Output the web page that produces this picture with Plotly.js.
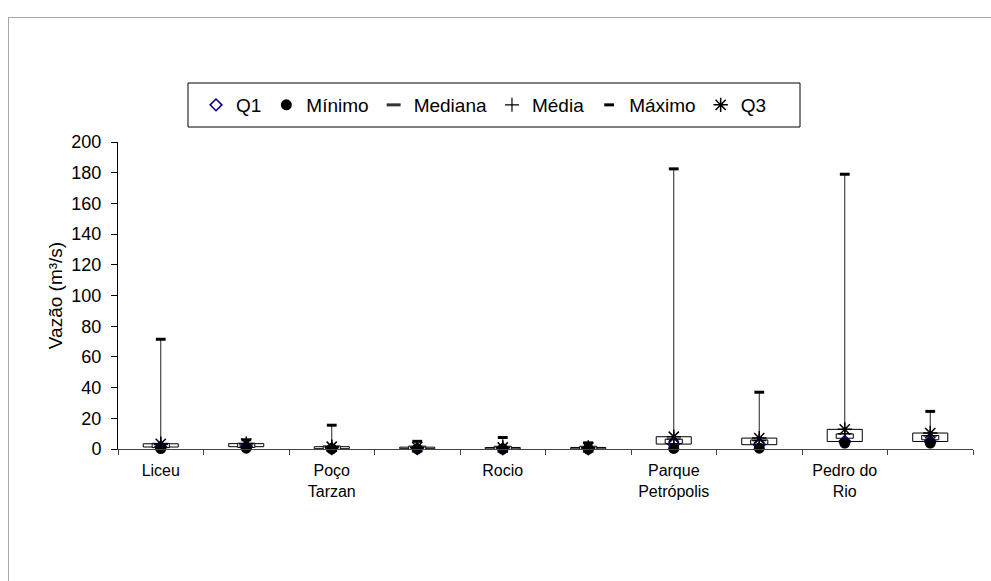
<!DOCTYPE html>
<html><head><meta charset="utf-8">
<script src="https://cdn.plot.ly/plotly-3.0.1.min.js"></script>
<style>
html,body{margin:0;padding:0;background:#fff;}
#wrap{position:relative;width:991px;height:581px;overflow:hidden;}
#frame{position:absolute;left:8px;top:17px;width:1000px;height:600px;border-left:1px solid #a8a8a8;border-top:1px solid #a8a8a8;pointer-events:none;}
#chart{position:absolute;left:0;top:0;width:991px;height:581px;}
</style></head>
<body><div id="wrap"><div id="chart"></div><div id="frame"></div></div>
<script>
// ---- data ----
const categories = ["Liceu", "", "Poço Tarzan", "", "Rocio", "", "Parque Petrópolis", "", "Pedro do Rio", ""];
const tickLabels = ["Liceu", "", "Poço<br>Tarzan", "", "Rocio", "", "Parque<br>Petrópolis", "", "Pedro do<br>Rio", ""];
const q1      = [1.3, 1.5, 0.2, 0.2, 0.1, 0.1, 3.2, 2.8, 4.9, 4.9];
const minimo  = [0.3, 0.5, 0.05, 0.05, 0.0, 0.0, 0.4, 0.5, 3.9, 3.9];
const mediana = [2.3, 2.4, 0.6, 0.5, 0.4, 0.4, 5.0, 4.5, 8.4, 7.4];
const media   = [2.8, 2.6, 1.1, 0.9, 0.8, 0.6, 6.5, 5.5, 10.0, 8.5];
const maximo  = [71.5, 6.0, 15.5, 5.0, 7.5, 4.0, 182.5, 37.0, 179.0, 24.5];
const q3      = [3.4, 3.5, 1.5, 1.2, 1.0, 1.0, 8.0, 7.1, 12.8, 10.4];
const yTicks  = [0, 20, 40, 60, 80, 100, 120, 140, 160, 180, 200];

// ---- styles ----
const FONT = "Liberation Sans, Arial, sans-serif";
const BOX_W = 0.41, MED_W = 0.2, MED_HALF = 1.4;

const xs = categories.map((_, i) => i + 1);
const bounds = [0].concat(xs).map(v => v + 0.5);

const hiloX = [], hiloY = [];
xs.forEach((x, i) => { hiloX.push(x, x, null); hiloY.push(minimo[i], maximo[i], null); });

const traces = [
  { type: "bar", x: xs, base: q1, y: q3.map((v, i) => v - q1[i]), width: BOX_W,
    marker: { color: "#ffffff", line: { color: "#000", width: 1 } }, showlegend: false, hoverinfo: "skip" },
  { type: "bar", x: xs, base: mediana.map(v => v - MED_HALF), y: mediana.map(() => 2 * MED_HALF), width: MED_W,
    marker: { color: "#ffffff", line: { color: "#000", width: 1 } }, showlegend: false, legendgroup: "med", hoverinfo: "skip" },
  { type: "scatter", mode: "lines", x: hiloX, y: hiloY, line: { color: "#222", width: 1 },
    showlegend: false, cliponaxis: false, hoverinfo: "skip" },
  { type: "scatter", mode: "markers", name: "Média", x: xs, y: media, legendrank: 4, cliponaxis: false,
    marker: { symbol: "cross-thin-open", size: 10, color: "#000", line: { color: "#000", width: 1.2 } } },
  { type: "scatter", mode: "markers", name: "Máximo", x: xs, y: maximo, legendrank: 5, cliponaxis: false,
    marker: { symbol: "line-ew-open", size: 7, color: "#000", line: { color: "#000", width: 3 } } },
  { type: "scatter", mode: "markers", name: "Q1", x: xs, y: q1, legendrank: 1, cliponaxis: false,
    marker: { symbol: "diamond-open", size: 9, color: "#000080", line: { color: "#000080", width: 1.5 } } },
  { type: "scatter", mode: "markers", name: "Q3", x: xs, y: q3, legendrank: 6, cliponaxis: false,
    marker: { symbol: "asterisk-open", size: 12, color: "#000", line: { color: "#000", width: 1.5 } } },
  { type: "scatter", mode: "markers", name: "Mínimo", x: xs, y: minimo, legendrank: 2, cliponaxis: false,
    marker: { symbol: "circle", size: 11, color: "#000" } },
  { type: "scatter", mode: "markers", name: "Mediana", x: [null], y: [null], legendrank: 3, legendgroup: "med",
    marker: { symbol: "line-ew-open", size: 10, color: "#333", line: { color: "#333", width: 3 } } }
];

const L = 118, R = 18, T = 142, B = 132;
const W = 991, H = 581, PW = W - L - R, PH = H - T - B;
const px = v => (v - L) / PW;
const py = v => (H - B - v) / PH;

const layout = {
  width: W, height: H,
  margin: { l: L, r: R, t: T, b: B },
  paper_bgcolor: "rgba(0,0,0,0)", plot_bgcolor: "rgba(0,0,0,0)",
  font: { family: FONT, color: "#000", size: 16 },
  barmode: "overlay",
  showlegend: true,
  legend: { orientation: "h", x: px(196), xanchor: "left", y: py(105), yanchor: "middle",
            bgcolor: "rgba(0,0,0,0)", borderwidth: 0, font: { family: FONT, size: 19, color: "#000" },
            itemwidth: 30, traceorder: "normal" },
  xaxis: { type: "linear", range: [0.5, 10.5], tickmode: "array", tickvals: bounds, ticktext: bounds.map(() => ""),
           ticks: "outside", ticklen: 5, tickcolor: "#444", showline: true, linecolor: "#444", linewidth: 1,
           showgrid: false, zeroline: false, fixedrange: true },
  xaxis2: { type: "linear", overlaying: "x", anchor: "y", side: "bottom", range: [0.5, 10.5],
            tickmode: "array", tickvals: xs, ticktext: tickLabels, ticks: "", ticklen: 0, showline: false,
            showgrid: false, zeroline: false, ticklabelstandoff: 10, tickfont: { family: FONT, size: 16, color: "#000" } },
  yaxis: { range: [0, 200], tickmode: "array", tickvals: yTicks, ticks: "outside", ticklen: 6, tickcolor: "#000",
           showline: true, linecolor: "#000", linewidth: 1, showgrid: false, zeroline: false,
           ticklabelstandoff: 6, tickfont: { family: FONT, size: 18, color: "#000" },
           title: { text: "Vazão (m³/s)", font: { family: FONT, size: 19, color: "#000" }, standoff: 3 } },
  shapes: [
    { type: "rect", xref: "paper", yref: "paper", x0: px(188), x1: px(800), y0: py(127), y1: py(83),
      line: { color: "#000", width: 1 }, fillcolor: "#fff", layer: "below" }
  ]
};

// label-only overlay axis (category names centred under each group)
traces.push({ type: "scatter", mode: "markers", x: xs, y: xs.map(() => null), xaxis: "x2", yaxis: "y",
              showlegend: false, hoverinfo: "skip" });

Plotly.newPlot("chart", traces, layout, { displayModeBar: false, staticPlot: true });
</script>
</body></html>
